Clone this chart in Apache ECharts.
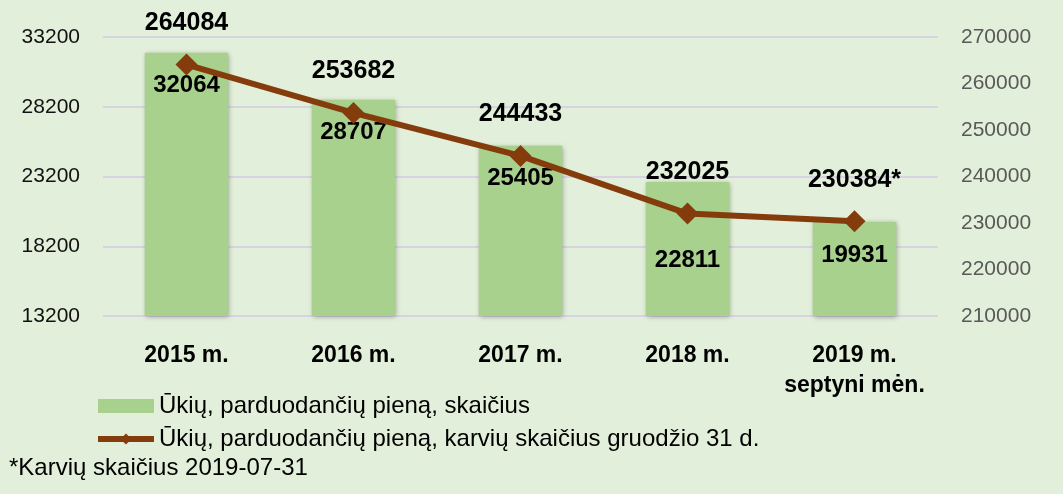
<!DOCTYPE html>
<html>
<head>
<meta charset="utf-8">
<script src="https://cdn.jsdelivr.net/npm/echarts@6/dist/echarts.min.js"></script>
<style>
  html, body { margin: 0; padding: 0; background: #e2efda; }
  #chart { width: 1063px; height: 494px; }
</style>
</head>
<body>
<div id="chart"></div>
<script>
// duomenys
const categories = ['2015 m.', '2016 m.', '2017 m.', '2018 m.', '2019 m.\nseptyni mėn.'];
const farms = [32064, 28707, 25405, 22811, 19931];
const cows = [264084, 253682, 244433, 232025, 230384];
const cowLabels = ['264084', '253682', '244433', '232025', '230384*'];
const barName = 'Ūkių, parduodančių pieną, skaičius';
const lineName = 'Ūkių, parduodančių pieną, karvių skaičius gruodžio 31 d.';
const footnote = '*Karvių skaičius 2019-07-31';

const FONT = '"Liberation Sans", Arial, sans-serif';

let myChart = echarts.init(document.getElementById('chart'));

let option = {
  backgroundColor: '#e2efda',
  textStyle: { fontFamily: FONT },
  grid: { left: 103, right: 125, top: 37, bottom: 178 },
  legend: {
    orient: 'vertical',
    left: 90,
    top: 389,
    itemGap: 9,
    itemWidth: 56,
    itemHeight: 14,
    textStyle: { fontSize: 24, color: '#000', fontFamily: FONT },
    data: [
      { name: barName, icon: 'rect' },
      { name: lineName, lineStyle: { width: 6 } }
    ]
  },
  graphic: [{
    type: 'text',
    left: 9,
    top: 456,
    style: { text: footnote, fontSize: 24, fill: '#000', fontFamily: FONT }
  }],
  xAxis: {
    type: 'category',
    data: categories,
    axisLine: { show: false },
    axisTick: { show: false },
    axisLabel: {
      interval: 0,
      margin: 25,
      fontSize: 23,
      fontWeight: 'bold',
      color: '#000',
      lineHeight: 30,
      fontFamily: FONT
    }
  },
  yAxis: [
    {
      type: 'value',
      min: 13200,
      max: 33200,
      interval: 5000,
      axisLine: { show: false },
      axisTick: { show: false },
      axisLabel: { fontSize: 21, color: '#111', margin: 23, fontFamily: FONT, formatter: v => String(v) },
      splitLine: { lineStyle: { color: '#d8d3e2', width: 2 } }
    },
    {
      type: 'value',
      min: 210000,
      max: 270000,
      interval: 10000,
      axisLine: { show: false },
      axisTick: { show: false },
      axisLabel: { fontSize: 21, color: '#595959', margin: 23, fontFamily: FONT, formatter: v => String(v) },
      splitLine: { show: false }
    }
  ],
  series: [
    {
      name: barName,
      type: 'bar',
      barWidth: '50%',
      data: farms.map((v, i) => i === 3
        ? { value: v, label: { distance: 66 } }
        : v),
      itemStyle: {
        color: '#a9d18e',
        shadowColor: 'rgba(0,0,0,0.35)',
        shadowBlur: 5,
        shadowOffsetX: 1,
        shadowOffsetY: 1
      },
      label: {
        show: true,
        position: 'insideTop',
        distance: 21,
        fontSize: 24,
        fontWeight: 'bold',
        color: '#000',
        fontFamily: FONT
      },
      z: 2
    },
    {
      name: lineName,
      type: 'line',
      yAxisIndex: 1,
      data: cows,
      symbol: 'diamond',
      symbolSize: 22,
      lineStyle: { color: '#843c0c', width: 6 },
      itemStyle: { color: '#843c0c' },
      label: {
        show: true,
        position: 'top',
        distance: 18,
        fontSize: 25,
        fontWeight: 'bold',
        color: '#000',
        fontFamily: FONT,
        formatter: p => cowLabels[p.dataIndex]
      },
      z: 3
    }
  ]
};

myChart.setOption(option);
</script>
</body>
</html>
